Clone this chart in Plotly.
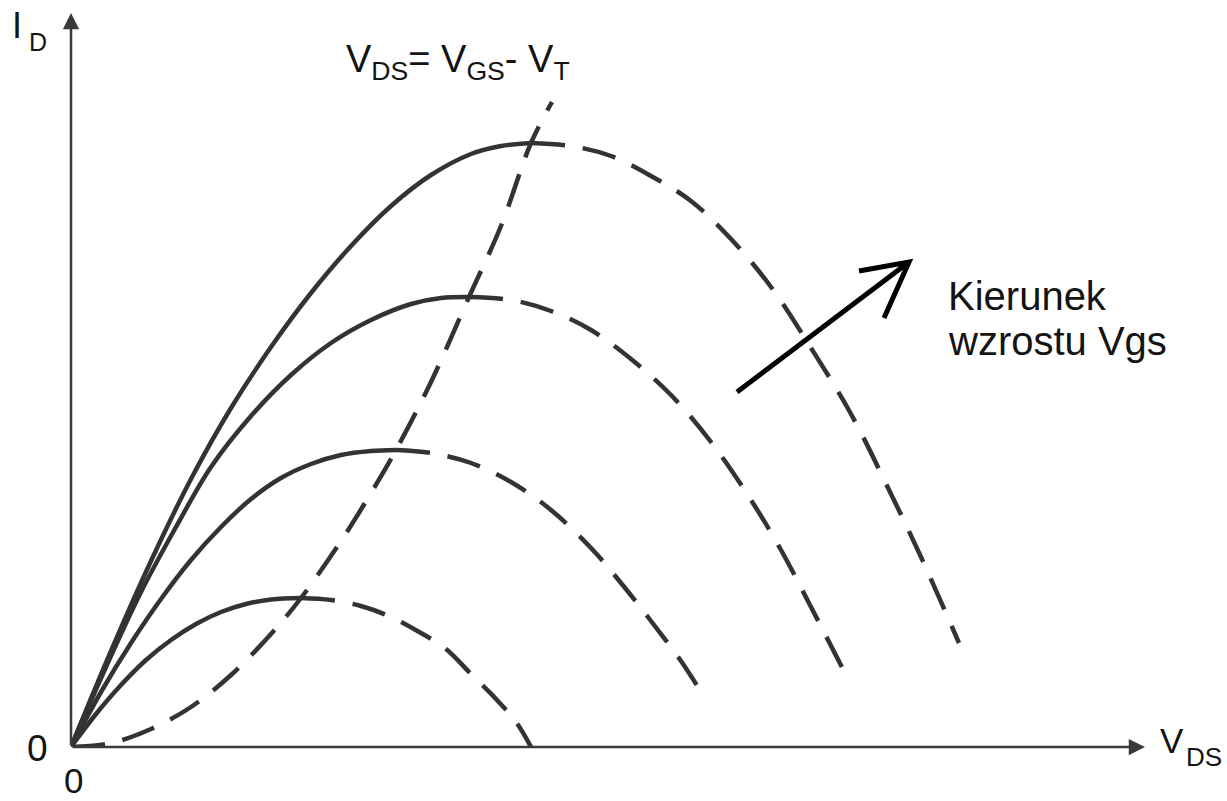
import plotly.graph_objects as go

# ---------------- data ----------------
# Curve 1 (lowest V_GS): solid = triode region, dashed = continuation
c1_x_solid = [0, 0.25, 0.5, 0.75, 1.0, 1.25, 1.5, 1.75, 2.0, 2.3]
c1_y_solid = [0, 0.33, 0.62, 0.87, 1.07, 1.23, 1.35, 1.43, 1.475, 1.49]
c1_x_dash = [2.3, 2.6, 2.9, 3.2, 3.5, 3.75, 4.0, 4.25, 4.45, 4.6]
c1_y_dash = [1.49, 1.47, 1.41, 1.30, 1.14, 0.98, 0.73, 0.48, 0.25, 0.0]

# Curve 2
c2_x_solid = [0, 0.3, 0.6, 0.9, 1.2, 1.5, 1.8, 2.1, 2.4, 2.7, 3.0, 3.25]
c2_y_solid = [0, 0.55, 1.04, 1.48, 1.87, 2.20, 2.48, 2.69, 2.83, 2.92, 2.96, 2.97]
c2_x_dash = [3.25, 3.6, 4.0, 4.4, 4.8, 5.2, 5.5, 5.8, 6.1, 6.35]
c2_y_dash = [2.97, 2.94, 2.84, 2.65, 2.37, 1.99, 1.64, 1.26, 0.86, 0.47]

# Curve 3
c3_x_solid = [0, 0.35, 0.7, 1.05, 1.4, 1.8, 2.2, 2.6, 3.0, 3.4, 3.7, 3.98]
c3_y_solid = [0, 0.80, 1.55, 2.20, 2.80, 3.31, 3.72, 4.04, 4.27, 4.43, 4.49, 4.50]
c3_x_dash = [3.98, 4.4, 4.8, 5.2, 5.6, 6.0, 6.4, 6.8, 7.1, 7.4, 7.75]
c3_y_dash = [4.50, 4.47, 4.36, 4.17, 3.88, 3.52, 3.05, 2.47, 1.97, 1.40, 0.72]

# Curve 4 (highest V_GS)
c4_x_solid = [0, 0.4, 0.8, 1.2, 1.6, 2.0, 2.4, 2.8, 3.2, 3.6, 4.0, 4.3, 4.6]
c4_y_solid = [0, 0.96, 1.86, 2.68, 3.39, 4.00, 4.54, 5.01, 5.41, 5.72, 5.93, 6.01, 6.04]
c4_x_dash = [4.6, 5.0, 5.4, 5.8, 6.2, 6.6, 7.0, 7.4, 7.8, 8.2, 8.5, 8.88]
c4_y_dash = [6.04, 6.01, 5.91, 5.71, 5.46, 5.08, 4.60, 3.99, 3.33, 2.53, 1.90, 1.04]

# Boundary V_DS = V_GS - V_T (through the curve maxima)
sat_x = [0, 0.4, 0.8, 1.2, 1.6, 2.0, 2.3, 2.7, 3.0, 3.25, 3.6, 3.98, 4.3, 4.6, 4.81]
sat_y = [0, 0.04, 0.18, 0.40, 0.72, 1.13, 1.49, 2.06, 2.54, 2.97, 3.65, 4.50, 5.21, 6.04, 6.45]

# axis extents (arrow tips)
x_max = 10.74
y_max = 7.34

# ---------------- styling ----------------
LINE_COLOR = "#333333"
TEXT_COLOR = "#141414"
FONT = "Liberation Sans, Arial, sans-serif"
DASH = "34px,18px"
LW = 4.5

# plot-area geometry in page pixels (origin of the axes at px (71, 747))
L, R, T, B = 71, 82, 13, 54
W, H = 1227, 801
PW, PH = W - L - R, H - T - B

curves_solid = [(c1_x_solid, c1_y_solid), (c2_x_solid, c2_y_solid),
                (c3_x_solid, c3_y_solid), (c4_x_solid, c4_y_solid)]
curves_dash = [(c1_x_dash, c1_y_dash), (c2_x_dash, c2_y_dash),
               (c3_x_dash, c3_y_dash), (c4_x_dash, c4_y_dash)]

fig = go.Figure()

for xs, ys in curves_solid:
    fig.add_trace(go.Scatter(x=xs, y=ys, mode="lines",
                             line=dict(color=LINE_COLOR, width=LW, shape="spline"),
                             cliponaxis=False, hoverinfo="skip"))
for xs, ys in curves_dash:
    fig.add_trace(go.Scatter(x=xs, y=ys, mode="lines",
                             line=dict(color=LINE_COLOR, width=LW, shape="spline", dash=DASH),
                             cliponaxis=False, hoverinfo="skip"))
fig.add_trace(go.Scatter(x=sat_x, y=sat_y, mode="lines",
                         line=dict(color=LINE_COLOR, width=LW, shape="spline", dash=DASH),
                         cliponaxis=False, hoverinfo="skip"))


def to_paper(X, Y):
    """page pixel -> paper coordinates"""
    return (X - L) / PW, (H - B - Y) / PH


def to_data(X, Y):
    px_per_x = PW / x_max
    px_per_y = PH / y_max
    return (X - L) / px_per_x, (H - B - Y) / px_per_y


annotations = []
shapes = []

# axes with arrowheads
annotations.append(dict(x=x_max, y=0, ax=0, ay=0, xref="x", yref="y", axref="x", ayref="y",
                        text="", showarrow=True, arrowhead=2, arrowsize=1.3, arrowwidth=2.5,
                        arrowcolor="#3a3a3a", standoff=0, startstandoff=0))
annotations.append(dict(x=0, y=y_max, ax=0, ay=0, xref="x", yref="y", axref="x", ayref="y",
                        text="", showarrow=True, arrowhead=2, arrowsize=1.3, arrowwidth=2.5,
                        arrowcolor="#3a3a3a", standoff=0, startstandoff=0))

# "direction of increasing Vgs" arrow (open V head)
tail = to_data(737, 392)
tip = to_data(909, 262)
wing1 = to_data(859, 271)
wing2 = to_data(884, 318)
shapes.append(dict(type="path", xref="x", yref="y",
                   path=(f"M{tail[0]},{tail[1]} L{tip[0]},{tip[1]} "
                         f"M{wing1[0]},{wing1[1]} L{tip[0]},{tip[1]} L{wing2[0]},{wing2[1]}"),
                   line=dict(color="#000000", width=5)))


def label(text, X, Y, size, xanchor="center", yanchor="middle"):
    x, y = to_paper(X, Y)
    annotations.append(dict(x=x, y=y, xref="paper", yref="paper", text=text, showarrow=False,
                            xanchor=xanchor, yanchor=yanchor, borderpad=0,
                            font=dict(family=FONT, size=size, color=TEXT_COLOR)))


label("I", 17, 25, 36)
label("D", 38, 42, 25)
label("0", 37, 748, 37)
label("0", 73, 801, 35, yanchor="bottom")
label("V", 1172, 740, 35)
label("DS", 1204, 757, 26)
label("V<sub>DS</sub>= V<sub>GS</sub>- V<sub>T</sub>", 345, 37, 38, xanchor="left", yanchor="top")
label("Kierunek", 947, 295.5, 40, xanchor="left")
label("wzrostu Vgs", 947, 340.5, 40, xanchor="left")

fig.update_layout(
    width=W, height=H,
    margin=dict(l=L, r=R, t=T, b=B, pad=0),
    paper_bgcolor="white", plot_bgcolor="white",
    showlegend=False, hovermode=False,
    xaxis=dict(range=[0, x_max], visible=False, showgrid=False, zeroline=False, fixedrange=True),
    yaxis=dict(range=[0, y_max], visible=False, showgrid=False, zeroline=False, fixedrange=True),
    annotations=annotations,
    shapes=shapes,
)

fig.write_html("out.html",
               config={"displayModeBar": False, "staticPlot": True},
               post_script="document.body.style.margin='0px';document.body.style.overflow='hidden';")
